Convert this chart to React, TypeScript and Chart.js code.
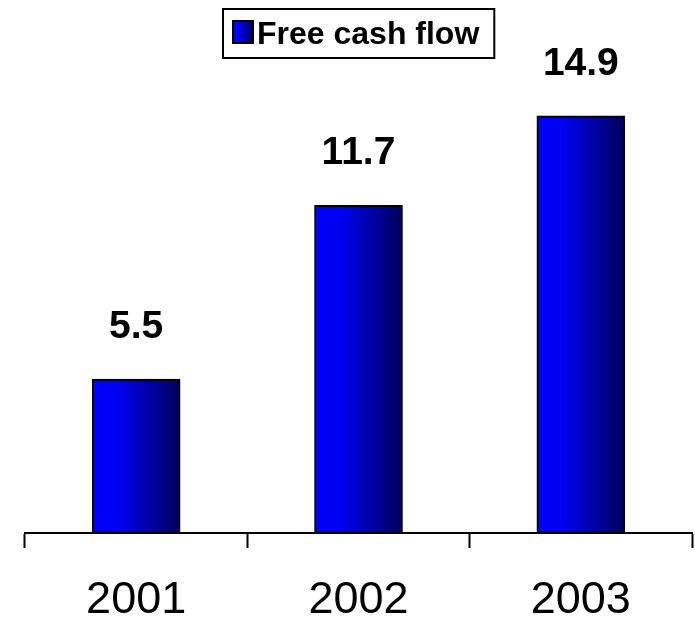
import React, { useEffect, useRef } from "react";
import { Chart, registerables } from "chart.js";

Chart.register(...registerables);

const categories = ["2001", "2002", "2003"];
const seriesName = "Free cash flow";
const freeCashFlow = [5.5, 11.7, 14.9];
const valueLabels = ["5.5", "11.7", "14.9"];

const FONT = 'Arial, "Liberation Sans", sans-serif';
const BAR_W = 88;

function barGradient(ctx: CanvasRenderingContext2D, left: number, width: number) {
  const g = ctx.createLinearGradient(left, 0, left + width, 0);
  g.addColorStop(0, "#0000ff");
  g.addColorStop(0.3, "#0000f0");
  g.addColorStop(0.6, "#0000b0");
  g.addColorStop(1, "#00005a");
  return g;
}

const valueLabelPlugin = {
  id: "valueLabels",
  afterDatasetsDraw(chart: any) {
    const ctx = chart.ctx;
    const meta = chart.getDatasetMeta(0);
    ctx.save();
    ctx.font = `bold 39px ${FONT}`;
    ctx.fillStyle = "#000";
    ctx.textAlign = "center";
    ctx.textBaseline = "alphabetic";
    meta.data.forEach((el: any, i: number) => {
      ctx.fillText(valueLabels[i], el.x, el.y - 41);
    });
    ctx.restore();
  },
};

const boxLegendPlugin = {
  id: "boxLegend",
  afterDraw(chart: any) {
    const ctx = chart.ctx;
    const area = chart.chartArea;
    ctx.save();
    ctx.font = `bold 32px ${FONT}`;
    const tw = ctx.measureText(seriesName).width;
    const boxW = 20;
    const padL = 10;
    const padR = 15;
    const totalW = padL + boxW + 4 + tw + padR;
    const cx = (area.left + area.right) / 2;
    const left = Math.round(cx - totalW / 2);
    const top = 9;
    const height = 49;
    ctx.fillStyle = "#fff";
    ctx.fillRect(left, top, totalW, height);
    ctx.lineWidth = 2;
    ctx.strokeStyle = "#000";
    ctx.strokeRect(left, top, totalW, height);
    const sx = left + padL;
    const sy = 21;
    ctx.fillStyle = barGradient(ctx, sx, boxW);
    ctx.fillRect(sx, sy, boxW, 22);
    ctx.lineWidth = 2;
    ctx.strokeRect(sx, sy, boxW, 22);
    ctx.fillStyle = "#000";
    ctx.textAlign = "left";
    ctx.textBaseline = "alphabetic";
    ctx.fillText(seriesName, sx + boxW + 4, 44);
    ctx.restore();
  },
};

export default function App() {
  const ref = useRef<HTMLCanvasElement>(null);

  useEffect(() => {
    if (!ref.current) return;
    const chart = new Chart(ref.current, {
      type: "bar",
      data: {
        labels: categories,
        datasets: [
          {
            label: seriesName,
            data: freeCashFlow,
            backgroundColor: (c: any) => {
              const chartObj = c.chart;
              const xs = chartObj.scales?.x;
              if (!xs || typeof c.dataIndex !== "number") return "#0000cc";
              const center = xs.getPixelForValue(c.dataIndex);
              if (!Number.isFinite(center)) return "#0000cc";
              return barGradient(chartObj.ctx, center - BAR_W / 2, BAR_W);
            },
            borderColor: "#000",
            borderWidth: 2,
            borderSkipped: false,
            barThickness: BAR_W,
          },
        ],
      },
      options: {
        responsive: false,
        animation: false,
        layout: { padding: { left: 25, right: 3, top: 29, bottom: 0 } },
        plugins: {
          legend: { display: false },
          tooltip: { enabled: false },
        },
        scales: {
          x: {
            offset: true,
            grid: {
              offset: true,
              drawOnChartArea: false,
              drawTicks: true,
              tickLength: 15,
              tickWidth: 2,
              tickColor: "#000",
            },
            border: { display: true, color: "#000", width: 2 },
            ticks: {
              color: "#000",
              font: { family: FONT, size: 45 },
              padding: 26,
              maxRotation: 0,
            },
            afterFit: (scale: any) => {
              scale.height = 86;
            },
          },
          y: {
            display: false,
            min: 0,
            max: 18,
          },
        },
      },
      plugins: [valueLabelPlugin, boxLegendPlugin],
    });
    return () => chart.destroy();
  }, []);

  return (
    <div style={{ position: "fixed", left: 0, top: 0, width: 695, height: 619, background: "#fff" }}>
      <canvas ref={ref} width={695} height={619} />
    </div>
  );
}
